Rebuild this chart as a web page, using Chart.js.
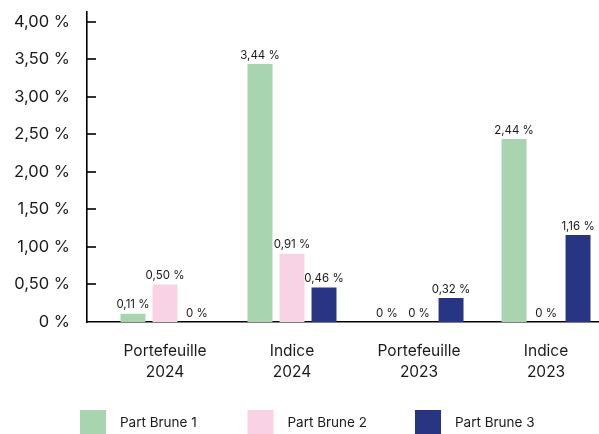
<!DOCTYPE html>
<html>
<head>
<meta charset="utf-8">
<script src="https://cdn.jsdelivr.net/npm/chart.js@4.4.1/dist/chart.umd.min.js"></script>
<style>
  html, body { margin: 0; padding: 0; background: #fff; }
  #wrap { width: 599px; height: 434px; }
</style>
</head>
<body>
<div id="wrap"><canvas id="chart"></canvas></div>
<script>
const categories = [['Portefeuille', '2024'], ['Indice', '2024'], ['Portefeuille', '2023'], ['Indice', '2023']];
const seriesNames = ['Part Brune 1', 'Part Brune 2', 'Part Brune 3'];
const brune1 = [0.11, 3.44, 0, 2.44];
const brune2 = [0.50, 0.91, 0, 0];
const brune3 = [0, 0.46, 0.32, 1.16];
const yTicks = [0, 0.5, 1, 1.5, 2, 2.5, 3, 3.5, 4];
const colors = ['#a8d4b0', '#f8d3e5', '#283583'];

const fontFamily = 'Inter, "Noto Sans", sans-serif';

function fmt(v) {
  if (v === 0) return '0 %';
  return v.toFixed(2).replace('.', ',') + ' %';
}

const toPoints = arr => arr.map((v, i) => ({ x: i, y: v }));

// value labels above each bar
const valueLabels = {
  id: 'valueLabels',
  afterDatasetsDraw(chart) {
    const ctx = chart.ctx;
    ctx.save();
    ctx.font = '11.5px ' + fontFamily;
    ctx.fillStyle = '#1a1a1a';
    ctx.textAlign = 'center';
    ctx.textBaseline = 'bottom';
    chart.data.datasets.forEach((ds, i) => {
      const meta = chart.getDatasetMeta(i);
      meta.data.forEach((bar, j) => {
        ctx.fillText(fmt(ds.data[j].y), bar.x, bar.y - 3);
      });
    });
    ctx.restore();
  }
};

// small tick marks on the inside of the y axis
const innerTicks = {
  id: 'innerTicks',
  afterDraw(chart) {
    const ctx = chart.ctx;
    const y = chart.scales.y;
    const left = chart.chartArea.left;
    ctx.save();
    ctx.strokeStyle = '#000';
    ctx.lineWidth = 1.6;
    y.ticks.forEach(t => {
      if (t.value === 0) return;
      const py = Math.round(y.getPixelForValue(t.value));
      ctx.beginPath();
      ctx.moveTo(left, py);
      ctx.lineTo(left + 9, py);
      ctx.stroke();
    });
    ctx.restore();
  }
};

// legend row under the chart
const bottomLegend = {
  id: 'bottomLegend',
  afterDraw(chart) {
    const ctx = chart.ctx;
    ctx.save();
    ctx.font = '13.5px ' + fontFamily;
    ctx.textBaseline = 'middle';
    ctx.textAlign = 'left';
    chart.data.datasets.forEach((ds, i) => {
      const x = 80 + i * 167.5;
      ctx.fillStyle = ds.backgroundColor;
      ctx.fillRect(x, 410, 26, 24);
      ctx.fillStyle = '#1a1a1a';
      ctx.fillText(ds.label, x + 40, 423);
    });
    ctx.restore();
  }
};

const ctx = document.getElementById('chart').getContext('2d');
const chart = new Chart(ctx, {
  type: 'bar',
  data: {
    datasets: [
      { label: seriesNames[0], data: toPoints(brune1), backgroundColor: colors[0] },
      { label: seriesNames[1], data: toPoints(brune2), backgroundColor: colors[1] },
      { label: seriesNames[2], data: toPoints(brune3), backgroundColor: colors[2] }
    ]
  },
  options: {
    responsive: true,
    maintainAspectRatio: false,
    animation: false,
    layout: { padding: { top: 12, right: 0, left: 0, bottom: 44 } },
    datasets: {
      bar: { categoryPercentage: 0.756, barPercentage: 0.78, borderWidth: 0 }
    },
    scales: {
      x: {
        type: 'linear',
        offset: false,
        min: -0.614,
        max: 3.417,
        grid: { display: false, drawTicks: false },
        border: { display: true, color: '#000', width: 1.6 },
        afterBuildTicks: scale => { scale.ticks = categories.map((c, i) => ({ value: i })); },
        afterFit: scale => {
          scale.height = 68;
          scale.paddingLeft = 0;
          scale.paddingRight = 0;
        },
        ticks: {
          padding: 19,
          color: '#1a1a1a',
          font: { family: fontFamily, size: 15.5, lineHeight: 1.35 },
          autoSkip: false,
          maxRotation: 0,
          callback: v => categories[v]
        }
      },
      y: {
        min: 0,
        max: 4.133,
        grid: { display: false, drawTicks: false },
        border: { display: true, color: '#000', width: 1.6 },
        afterBuildTicks: scale => { scale.ticks = yTicks.map(v => ({ value: v })); },
        afterFit: scale => {
          scale.width = 87;
          scale.paddingTop = 0;
          scale.paddingBottom = 0;
        },
        ticks: {
          padding: 17,
          color: '#1a1a1a',
          font: { family: fontFamily, size: 16.5 },
          callback: v => fmt(v)
        }
      }
    },
    plugins: {
      legend: { display: false },
      tooltip: { enabled: false }
    }
  },
  plugins: [valueLabels, innerTicks, bottomLegend]
});
</script>
</body>
</html>
